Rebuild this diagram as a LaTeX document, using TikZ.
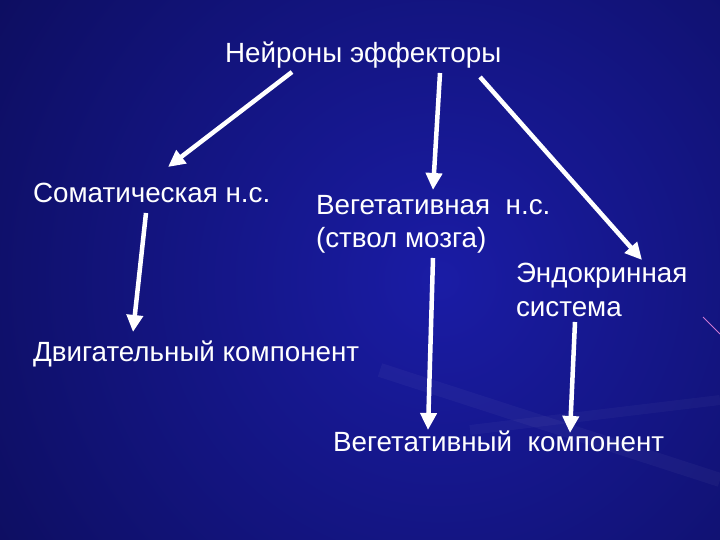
\documentclass[tikz,border=0pt]{standalone}
\usepackage{fontspec}
\setmainfont{Liberation Sans}
\usetikzlibrary{positioning,arrows.meta,calc}

\begin{document}
\begin{tikzpicture}[x=1pt,y=1pt,
  lbl/.style={text=white,anchor=base west,inner sep=0pt,outer sep=0pt,font=\fontsize{27.8}{32}\selectfont},
  arr/.style={draw=white,line width=4.5pt,-{Triangle[length=17pt,width=16pt]}}]
\definecolor{bgInner}{RGB}{26,28,165}
\definecolor{bgOuter}{RGB}{6,6,58}
\definecolor{streakColor}{RGB}{205,120,210}
\path[use as bounding box] (0,0) rectangle (720,540);
\begin{scope}
\path[clip] (0,0) rectangle (720,540);
\shade[inner color=bgInner,outer color=bgOuter] (440,260) circle (820);
% faint streaks
\path[draw=white,draw opacity=0.035,line width=14pt] (380,170) -- (720,60);
\path[draw=white,draw opacity=0.03,line width=10pt] (470,110) -- (720,140);
\path[draw=streakColor,line width=1pt] (703,223) -- (720,206);
\end{scope}

\node[lbl] (neuro) at (225,477) {Нейроны эффекторы};
\node[lbl] (soma) at (33,337) {Соматическая н.с.};
\node[lbl] (veget) at (316,325) {Вегетативная~ н.с.};
\node[lbl] (stem) at (316,292) {(ствол мозга)};
\node[lbl] (endo) at (516,257) {Эндокринная};
\node[lbl] (endosys) at (516,223) {система};
\node[lbl] (motor) at (33,178) {Двигательный компонент};
\node[lbl] (vegcomp) at (333,88) {Вегетативный~ компонент};

\draw[arr] ($(neuro.base west)+(67,-9)$) -- ($(soma.base west)+(135,36)$);
\draw[arr] ($(neuro.base west)+(215,-10)$) -- ($(veget.base west)+(117,25)$);
\draw[arr] ($(neuro.base west)+(255,-14)$) -- ($(endo.base west)+(126,23)$);
\draw[arr] ($(soma.base west)+(113,-10)$) -- ($(motor.base west)+(100,30)$);
\draw[arr] ($(stem.base west)+(117,-10)$) -- ($(vegcomp.base west)+(95,22)$);
\draw[arr] ($(endosys.base west)+(59,-5)$) -- ($(vegcomp.base west)+(237,19)$);
\end{tikzpicture}
\end{document}
